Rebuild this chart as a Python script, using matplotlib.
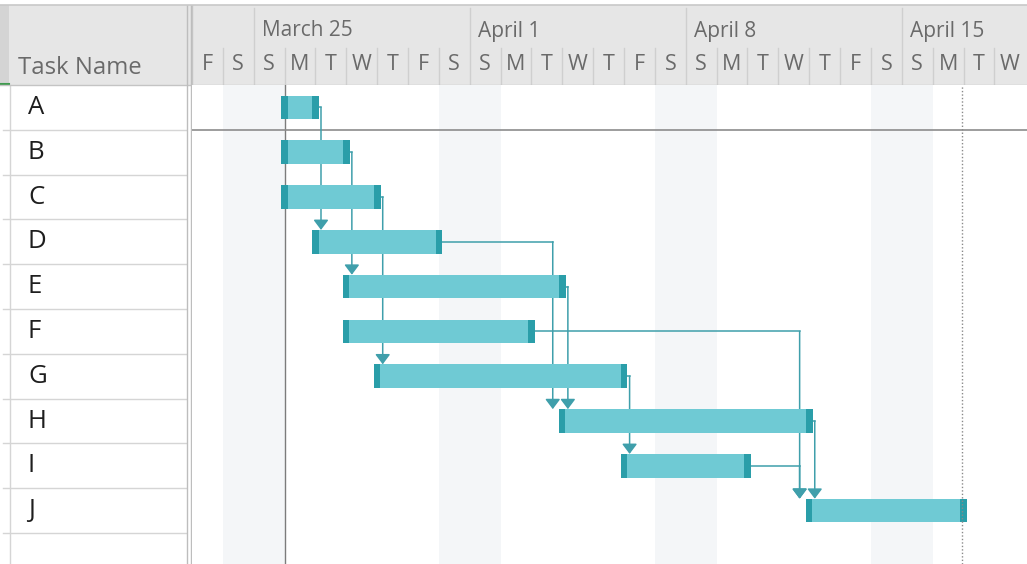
import matplotlib.pyplot as plt
from matplotlib.patches import Rectangle

plt.rcParams['font.family'] = ['Open Sans', 'DejaVu Sans']

# Schedule, in day offsets from Friday 23 March 2018
tasks = ["A", "B", "C", "D", "E", "F", "G", "H", "I", "J"]
start_day = [3, 3, 3, 4, 5, 5, 6, 12, 14, 20]
finish_day = [4, 5, 6, 8, 12, 11, 14, 20, 18, 25]
links = [("A", "D"), ("B", "E"), ("C", "G"), ("D", "H"), ("E", "H"),
         ("F", "J"), ("G", "I"), ("H", "J"), ("I", "J")]

# Timescale
week_labels = ["March 25", "April 1", "April 8", "April 15"]
week_start = [2, 9, 16, 23]
day_letters = list("FSSMTWTFSSMTWTFSSMTWTFSSMTW")
weekend_days = [1, 2, 8, 9, 15, 16, 22, 23]
project_start = 3
status_day = 25

# Layout (pixels)
W, H = 1027, 564
X0 = 192          # left edge of the timeline
TOP = 5           # top of the header
HEAD = 85         # bottom of the header
DAY_PX = 30.86
ROW_PX = 44.8

BAR = '#6fcad4'
CAP = '#2a9ea9'
LINK = '#3f9fab'
HEAD_BG = '#e6e6e6'
GRID = '#d5d5d5'


def box(x0, y0, x1, y1):
    return [x0 / W, 1 - y1 / H, (x1 - x0) / W, (y1 - y0) / H]


fig = plt.figure(figsize=(W / 100, H / 100), dpi=100)
fig.patch.set_facecolor('white')

# ---- task sheet on the left ----
tab = fig.add_axes(box(0, TOP, X0, H))
tab.set_xlim(0, X0)
tab.set_ylim(H, TOP)
tab.axis('off')
tab.add_patch(Rectangle((0, TOP), X0, HEAD - TOP, color=HEAD_BG, lw=0))
tab.add_patch(Rectangle((0, TOP), 9, HEAD - TOP, color='#d4d4d4', lw=0))
tab.plot([0, 9], [HEAD - 1.5, HEAD - 1.5], color='#3f9a4f', lw=1.5)
tab.plot([9.5, 9.5], [HEAD, H], color=GRID, lw=1)
tab.plot([0, X0], [HEAD, HEAD], color='#c4c4c4', lw=1)
tab.text(18, 68, "Task Name", fontsize=17.2, color='#6a6a6a', va='center', ha='left')
for i, name in enumerate(tasks):
    yc = HEAD + (i + 0.5) * ROW_PX
    tab.text(28, yc, name, fontsize=18.5, color='#1e1e1e', va='center', ha='left')
for i in range(1, len(tasks) + 1):
    yl = HEAD + i * ROW_PX
    tab.plot([3, 186], [yl, yl], color=GRID, lw=1)
tab.plot([186.5, 186.5], [TOP, H], color='#bdbdbd', lw=1)
tab.plot([190.5, 190.5], [TOP, H], color='#bdbdbd', lw=1)

# ---- timescale header ----
ndays = (W - X0) / DAY_PX
hdr = fig.add_axes(box(X0, TOP, W, HEAD))
hdr.set_xlim(0, ndays)
hdr.set_ylim(HEAD, TOP)
hdr.axis('off')
hdr.add_patch(Rectangle((0, TOP), ndays, HEAD - TOP, color=HEAD_BG, lw=0))
for d, letter in enumerate(day_letters):
    hdr.text(d + 0.5, 64, letter, fontsize=15.5, color='#6a6a6a', ha='center', va='center')
    if d > 0 and d not in week_start:
        hdr.plot([d, d], [48, HEAD], color='#cfcfcf', lw=1)
for d, lab in zip(week_start, week_labels):
    hdr.plot([d, d], [TOP + 3, HEAD], color='#cfcfcf', lw=1)
    hdr.text(d + 0.27, 31, lab, fontsize=15, color='#6a6a6a', ha='left', va='center')
hdr.plot([0, 0], [TOP, HEAD], color='#c4c4c4', lw=1)
hdr.plot([0, ndays], [HEAD - 0.5, HEAD - 0.5], color='#c4c4c4', lw=1)

# line along the very top
fig.add_artist(plt.Line2D([0, 1], [1 - TOP / H, 1 - TOP / H], color='#c8c8c8', lw=1.2))

# ---- gantt body ----
ax = fig.add_axes(box(X0, HEAD, W, H))
ax.set_xlim(0, ndays)
ax.set_ylim((H - HEAD) / ROW_PX, 0)
ax.axis('off')

for d in weekend_days:
    ax.axvspan(d, d + 1, color='#f4f6f8', lw=0, zorder=0)

ax.axvline(project_start, color='#7c7c7c', lw=1, zorder=1)
ax.axvline(status_day - 0.05, color='#8a8a8a', lw=1, ls=(0, (1, 1.5)), zorder=4)
ax.axhline(1, color='#8c8c8c', lw=1.2, zorder=1)

pad = 0.11
cap = 0.21
bar_h = 0.53
for i, (s, f) in enumerate(zip(start_day, finish_day)):
    y = i + 0.5
    left, right = s - pad, f + pad
    ax.barh(y, right - left, left=left, height=bar_h, color=BAR, lw=0, zorder=3)
    ax.barh(y, cap, left=left, height=bar_h, color=CAP, lw=0, zorder=3)
    ax.barh(y, cap, left=right - cap, height=bar_h, color=CAP, lw=0, zorder=3)

# finish-to-start links
for pred, succ in links:
    p, s = tasks.index(pred), tasks.index(succ)
    x_end = finish_day[p] + pad
    x_next = start_day[s] - pad
    cx = x_end + 0.07 if x_end + 0.07 >= x_next else x_next - 0.2
    yp = p + 0.5
    y_top = s + 0.5 - bar_h / 2
    ax.plot([x_end, cx], [yp, yp], color=LINK, lw=1.1, zorder=2)
    ax.annotate("", xy=(cx, y_top), xytext=(cx, yp),
                arrowprops=dict(arrowstyle="-|>,head_length=0.6,head_width=0.45",
                                color=LINK, lw=1.1, shrinkA=0, shrinkB=0),
                zorder=2)

fig.savefig('out.png', dpi=100)
